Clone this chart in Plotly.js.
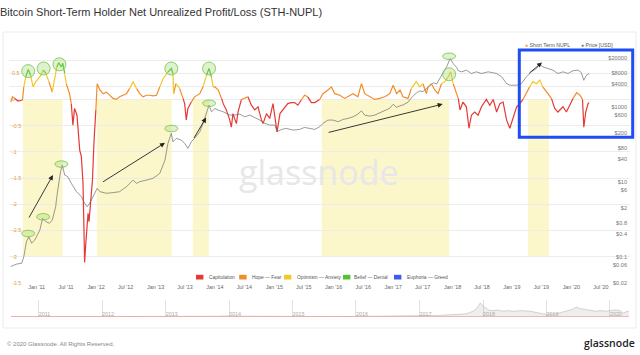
<!DOCTYPE html>
<html><head><meta charset="utf-8">
<script src="https://cdn.plot.ly/plotly-3.0.1.min.js"></script>
<style>html,body{margin:0;padding:0;background:#fff;}#chart{width:640px;height:355px;}</style>
</head><body><div id="chart"></div>
<script>
// ---------------- DATA ----------------
const nuplDates = [
'2010-07-26','2010-08-05','2010-08-19','2010-09-09','2010-10-06','2010-10-14','2010-10-26','2010-11-10','2010-11-25','2010-12-10','2010-12-27',
'2011-01-21','2011-02-10','2011-02-27','2011-03-17','2011-04-07','2011-04-21','2011-05-05','2011-05-17','2011-06-02','2011-06-11','2011-06-22','2011-07-02','2011-07-22','2011-08-02','2011-08-12','2011-08-22','2011-09-06','2011-09-23','2011-10-03','2011-10-13','2011-10-19','2011-10-23','2011-10-29','2011-11-07','2011-11-13','2011-11-19','2011-11-28','2011-12-10','2011-12-20','2011-12-31',
'2012-01-08','2012-01-25','2012-02-14','2012-03-05','2012-03-25','2012-04-15','2012-05-05','2012-05-25','2012-06-15','2012-07-06','2012-07-26','2012-08-16','2012-09-06','2012-09-26','2012-10-16','2012-11-07','2012-11-27','2012-12-17',
'2013-01-07','2013-01-27','2013-02-17','2013-03-18','2013-04-08','2013-04-18','2013-04-22','2013-05-06','2013-05-29','2013-06-19','2013-06-29','2013-07-09','2013-07-19','2013-08-09','2013-08-29','2013-09-30','2013-10-20','2013-11-10','2013-11-26','2013-12-11','2013-12-21',
'2014-01-01','2014-01-21','2014-02-11','2014-02-21','2014-03-12','2014-04-02','2014-04-12','2014-04-22','2014-05-13','2014-05-23','2014-06-13','2014-07-03','2014-07-23','2014-08-13','2014-09-03','2014-09-23','2014-10-14','2014-10-24','2014-11-14','2014-12-04','2014-12-24',
'2015-01-18','2015-02-05','2015-03-05','2015-03-25','2015-04-16','2015-05-06','2015-05-26','2015-06-16','2015-07-06','2015-07-26','2015-08-17','2015-09-07','2015-10-07','2015-10-27','2015-11-27','2015-12-18',
'2016-01-08','2016-02-08','2016-03-09','2016-03-29','2016-04-29','2016-05-29','2016-06-20','2016-07-10','2016-08-10','2016-09-10','2016-10-11','2016-11-11','2016-12-11',
'2017-01-01','2017-01-22','2017-02-12','2017-03-02','2017-04-02','2017-04-23','2017-05-23','2017-06-13','2017-07-03','2017-07-24','2017-08-03','2017-08-24','2017-09-14','2017-10-04','2017-10-25','2017-11-15','2017-12-05','2017-12-20',
'2018-01-05','2018-01-26','2018-02-05','2018-02-16','2018-03-06','2018-03-27','2018-04-12','2018-04-27','2018-05-17','2018-06-07','2018-06-28','2018-07-12','2018-07-28','2018-08-18','2018-09-08','2018-09-29','2018-10-19','2018-11-08','2018-11-29','2018-12-19',
'2019-01-09','2019-01-30','2019-02-19','2019-03-10','2019-03-31','2019-04-20','2019-05-10','2019-06-01','2019-06-21','2019-07-10','2019-08-01','2019-09-01','2019-09-21','2019-10-11','2019-11-11','2019-12-02','2019-12-22',
'2020-01-12','2020-02-03','2020-02-23','2020-03-10','2020-03-18','2020-03-30','2020-04-13','2020-04-20'];
const nuplValues = [
-0.05,0.05,0.02,-0.03,-0.01,0.24,0.43,0.57,0.46,0.24,0.34,
0.43,0.56,0.5,0.34,0.14,0.37,0.62,0.70,0.62,0.69,0.50,0.30,0.11,-0.08,-0.49,-0.17,-0.30,-0.97,-1.09,-1.60,-2.68,-3.11,-2.8,-2.3,-2.17,-2.33,-2.05,-1.54,-0.78,-0.2,
0.30,0.18,0.11,0.14,0.08,0.02,0,0.05,0.08,0.11,0.21,0.34,0.21,0.11,0.05,0.08,0.08,0.07,
0.08,0.24,0.40,0.52,0.59,0.50,0.11,0.30,0.21,0.02,-0.08,-0.39,-0.17,-0.05,0.05,0.11,0.24,0.46,0.59,0.42,0.24,
0.24,0.18,0.02,-0.08,-0.2,-0.39,-0.53,-0.27,-0.46,-0.24,0.0,0.02,0.05,-0.11,-0.2,-0.14,-0.39,-0.46,-0.27,-0.36,-0.08,
-0.62,-0.27,-0.15,-0.08,-0.06,-0.06,-0.11,-0.01,0.08,0.05,-0.06,-0.06,0.0,0.11,0.18,0.24,
0.11,0.08,0.02,0.05,0.11,0.05,0.30,0.11,0.05,0.0,0.02,0.05,0.11,
0.27,0.11,0.18,0.05,0.02,0.21,0.34,0.24,0.30,0.11,0.24,0.30,0.18,0.11,0.30,0.34,0.43,0.53,
0.30,0.08,0.02,-0.2,-0.05,-0.14,-0.55,-0.30,-0.24,-0.30,-0.14,-0.08,0.0,-0.11,0.0,-0.24,-0.08,-0.05,-0.39,-0.55,
-0.33,-0.14,-0.08,0.0,0.11,0.24,0.34,0.30,0.37,0.24,0.15,0.02,-0.17,-0.24,-0.14,-0.24,-0.11,
0.02,0.13,0.08,0.0,-0.53,-0.24,-0.08,-0.06];

const priceDates = [
'2010-07-26','2010-09-01','2010-10-01','2010-10-14','2010-10-30','2010-11-14','2010-12-01','2010-12-21',
'2011-01-21','2011-02-07','2011-02-27','2011-03-21','2011-04-07','2011-04-28','2011-05-05','2011-05-16','2011-05-28','2011-06-08','2011-06-22','2011-07-12','2011-08-02','2011-09-03','2011-10-03','2011-10-23','2011-11-07','2011-11-24','2011-12-14',
'2012-01-08','2012-01-25','2012-03-05','2012-04-15','2012-05-25','2012-07-06','2012-08-16','2012-09-06','2012-09-26','2012-11-07','2012-12-17',
'2013-01-27','2013-02-28','2013-03-18','2013-04-08','2013-04-18','2013-05-09','2013-06-09','2013-06-29','2013-07-19','2013-08-09','2013-08-29','2013-09-30','2013-10-20','2013-11-10','2013-11-26','2013-12-11',
'2014-01-01','2014-01-21','2014-02-21','2014-04-02','2014-05-02','2014-06-02','2014-07-03','2014-08-03','2014-09-03','2014-10-04','2014-11-04','2014-12-04',
'2015-01-05','2015-01-18','2015-02-15','2015-03-16','2015-04-26','2015-06-06','2015-07-06','2015-08-07','2015-09-07','2015-10-07','2015-10-27','2015-11-27','2015-12-28',
'2016-01-28','2016-02-28','2016-03-29','2016-04-29','2016-05-29','2016-06-20','2016-07-10','2016-08-10','2016-09-10','2016-10-11','2016-11-11','2016-12-11',
'2017-01-01','2017-01-22','2017-02-12','2017-03-02','2017-04-02','2017-04-23','2017-05-23','2017-06-13','2017-07-03','2017-07-24','2017-08-14','2017-09-04','2017-09-25','2017-10-16','2017-11-05','2017-11-26','2017-12-17',
'2018-01-05','2018-01-26','2018-02-05','2018-02-26','2018-03-27','2018-04-27','2018-05-27','2018-06-28','2018-08-08','2018-09-29','2018-10-30','2018-11-29','2018-12-19',
'2019-01-30','2019-03-01','2019-03-31','2019-05-01','2019-06-01','2019-06-21','2019-07-10','2019-08-10','2019-09-10','2019-10-11','2019-11-11','2019-12-12',
'2020-01-12','2020-02-12','2020-03-03','2020-03-18','2020-04-03','2020-04-20'];
const priceValues = [
0.055,0.064,0.067,0.10,0.25,0.34,0.23,0.28,
0.52,1.06,0.86,0.78,0.95,2.15,4.0,9.0,18.4,27.7,15.0,13.5,9.0,5.4,4.0,2.65,2.15,2.7,4.0,
6.6,5.4,4.9,5.1,5.4,7.3,11.0,9.0,10.0,11.0,12.3,
16.6,37.6,104,193,115,142,128,104,77,115,142,213,356,724,1092,724,
891,804,724,592,592,629,533,592,514,436,356,321,
321,213,246,262,236,246,278,262,246,289,356,436,436,
393,454,483,533,629,769,592,556,592,680,800,900,
1150,950,1050,1100,1300,1700,2300,2600,2500,3000,3700,4300,4000,5800,7600,11500,19000,
14000,11000,9000,8400,9300,7600,8400,7600,8400,7600,6200,4100,3700,
3700,4100,6200,8400,10300,13400,11400,10300,9300,7600,8400,7600,
9000,9300,8000,5000,6850,7600];

const zoneNames  = ['Capitulation','Hope — Fear','Optimism — Anxiety','Belief — Denial','Euphoria — Greed'];
const zoneColors = ['#e53935','#f28c28','#f2c92b','#52c234','#3d5bf0'];
const zoneLimits = [0, 0.25, 0.5, 0.75];

const shadeStarts = ['2010-10-08','2012-01-06','2013-08-18','2015-10-20','2019-04-10'];
const shadeEnds   = ['2011-06-10','2013-04-10','2013-11-25','2017-12-11','2019-08-16'];

const nuplPeakDates  = ['2010-11-10','2011-02-13','2011-05-21','2013-04-08','2013-11-26','2017-12-11'];
const nuplPeakValues = [0.54,0.59,0.67,0.59,0.59,0.48];
const pricePeakDates  = ['2010-11-10','2011-02-10','2011-06-02','2013-04-08','2013-11-26','2017-12-11'];
const pricePeakValues = [0.34,0.95,24,213,1000,17900];

const arrowFromDates  = ['2010-11-10','2012-02-04','2013-08-20','2015-11-22','2019-04-10'];
const arrowFromPrices = [1.01,9.35,133,200,7280];
const arrowToDates    = ['2011-04-11','2013-02-28','2013-11-08','2017-11-01','2019-07-05'];
const arrowToPrices   = [15,108,507,1160,14900];

const nuplTickVals = [1,0.75,0.5,0.25,0,-0.5,-1,-1.5,-2,-2.5,-3,-3.5];
const nuplTickText = ['','','0.5','','0','-0.5','-1','-1.5','-2','-2.5','-3','-3.5'];
const priceTickVals = [20000,8000,4000,1000,600,200,80,40,10,6,2,0.8,0.4,0.1,0.06,0.02];
const priceTickText = ['$20000','$8000','$4000','$1000','$600','$200','$80','$40','$10','$6','$2','$0.8','$0.4','$0.1','$0.06','$0.02'];

// ---------------- GEOMETRY (pixels -> paper) ----------------
const W = 640, H = 355, ML = 9, MR = 10, MT = 47, MB = 38;
const PW = W - ML - MR, PH = H - MT - MB;
const px = v => (v - ML) / PW;
const py = v => (H - MB - v) / PH;
const MAIN_BOTTOM = 283;

// ---------------- TRACES ----------------
function zoneOf(v){ let b = 0; for (let k = 0; k < zoneLimits.length; k++) if (v >= zoneLimits[k]) b = k + 1; return b; }
const traces = [];
traces.push({x: priceDates, y: priceValues, xaxis:'x', yaxis:'y2', mode:'lines', name:'Price [USD]',
  line:{color:'rgba(105,105,105,0.75)', width:0.9}, hoverinfo:'skip'});
for (let b = 0; b < zoneColors.length; b++) {
  const xs = [], ys = []; let last = -2;
  for (let i = 0; i < nuplValues.length - 1; i++) {
    const mid = (nuplValues[i] + nuplValues[i+1]) / 2;
    if (zoneOf(mid) !== b) continue;
    if (last !== i) { if (xs.length) { xs.push(null); ys.push(null); } xs.push(nuplDates[i]); ys.push(nuplValues[i]); }
    xs.push(nuplDates[i+1]); ys.push(nuplValues[i+1]); last = i + 1;
  }
  traces.push({x: xs, y: ys, xaxis:'x', yaxis:'y', mode:'lines', name: zoneNames[b], connectgaps:false,
    line:{color: zoneColors[b], width:1.2}, hoverinfo:'skip'});
}
traces.push({x: priceDates, y: priceValues, xaxis:'x2', yaxis:'y3', mode:'lines', fill:'tozeroy',
  fillcolor:'rgba(120,120,120,0.13)', line:{color:'#b8b8b8', width:0.6}, hoverinfo:'skip'});
traces.push({x: nuplDates, y: nuplValues, xaxis:'x2', yaxis:'y3', mode:'lines',
  line:{color:'#f3a58f', width:1.2}, hoverinfo:'skip'});

// ---------------- SHAPES ----------------
const shapes = [];
shapes.push({type:'rect', xref:'paper', yref:'paper', x0:px(3), x1:px(636), y0:py(328), y1:py(32),
  line:{color:'#ebebeb', width:1}, fillcolor:'rgba(0,0,0,0)', layer:'below'});
for (let i = 0; i < shadeStarts.length; i++) {
  shapes.push({type:'rect', xref:'x', yref:'y', x0:shadeStarts[i], x1:shadeEnds[i], y0:-3, y1:0,
    fillcolor:'#fcf6cb', line:{width:0}, layer:'below'});
}
const circ = (xr, yr, xa, ya) => ({type:'circle', xref:xr, yref:yr, xsizemode:'pixel', ysizemode:'pixel',
  xanchor:xa, yanchor:ya, x0:-6.5, x1:6.5, y0:-6.5, y1:6.5,
  fillcolor:'rgba(150,215,100,0.32)', line:{color:'rgba(120,195,75,0.8)', width:1}, layer:'above'});
for (let i = 0; i < nuplPeakDates.length; i++) shapes.push(circ('x','y', nuplPeakDates[i], nuplPeakValues[i]));
for (let i = 0; i < pricePeakDates.length; i++) shapes.push(circ('x','y2', pricePeakDates[i], pricePeakValues[i]));
shapes.push({type:'rect', xref:'paper', yref:'paper', x0:px(519.3), x1:px(632.7), y0:py(137.3), y1:py(50),
  line:{color:'#1f4cf3', width:3}, fillcolor:'rgba(0,0,0,0)', layer:'above'});
// bottom legend swatches and labels
const swatchX = [196, 239.2, 284, 343, 394];
const legendTextX = [206.5, 249.5, 294.5, 351.5, 404.5];
for (let i = 0; i < zoneColors.length; i++) {
  shapes.push({type:'rect', xref:'paper', yref:'paper', x0:px(swatchX[i]), x1:px(swatchX[i]+7.4),
    y0:py(279.5), y1:py(274.8), fillcolor:zoneColors[i], line:{width:0}, layer:'above'});
}

// ---------------- ANNOTATIONS ----------------
const ann = [];
for (let i = 0; i < arrowFromDates.length; i++) {
  ann.push({xref:'x', yref:'y2', axref:'x', ayref:'y2', x:arrowToDates[i], y:Math.log10(arrowToPrices[i]),
    ax:arrowFromDates[i], ay:Math.log10(arrowFromPrices[i]), text:'', showarrow:true,
    arrowhead:2, arrowsize:1.1, arrowwidth:0.9, arrowcolor:'#222'});
}
const small = {family:'Liberation Sans, Arial, sans-serif', size:4.9, color:'#555'};
for (let i = 0; i < zoneNames.length; i++) {
  ann.push({xref:'paper', yref:'paper', x:px(legendTextX[i]), y:py(277.2), xanchor:'left', yanchor:'middle',
    text: zoneNames[i], showarrow:false, font: small});
}
const topLeg = {family:'Liberation Sans, Arial, sans-serif', size:5.2, color:'#555'};
ann.push({xref:'paper', yref:'paper', x:px(522.5), y:py(45), xanchor:'left', yanchor:'middle', showarrow:false,
  text:'<span style="color:#f39a35">●</span> Short Term NUPL', font:topLeg});
ann.push({xref:'paper', yref:'paper', x:px(578.5), y:py(45), xanchor:'left', yanchor:'middle', showarrow:false,
  text:'<span style="color:#777">●</span> Price [USD]', font:topLeg});
ann.push({xref:'paper', yref:'paper', x:px(319), y:py(172), xanchor:'center', yanchor:'middle', showarrow:false,
  text:'glassnode', font:{family:'Open Sans, sans-serif', size:34, color:'#e7e7e7'}});
ann.push({xref:'paper', yref:'paper', x:px(5), y:py(344), xanchor:'left', yanchor:'middle', showarrow:false,
  text:'© 2020 Glassnode. All Rights Reserved.', font:{family:'Liberation Sans, Arial, sans-serif', size:6, color:'#888'}});
ann.push({xref:'paper', yref:'paper', x:px(637), y:py(342.5), xanchor:'right', yanchor:'middle', showarrow:false,
  text:'glassnode', font:{family:'Open Sans, sans-serif', size:10.5, color:'#222', weight:600}});

// ---------------- LAYOUT ----------------
const tickFont = {family:'Liberation Sans, Arial, sans-serif', size:5.4, color:'#666'};
const layout = {
  width: W, height: H, margin:{l:ML, r:MR, t:MT, b:MB, pad:0},
  paper_bgcolor:'#ffffff', plot_bgcolor:'rgba(0,0,0,0)', showlegend:false,
  title:{text:'Bitcoin Short-Term Holder Net Unrealized Profit/Loss (STH-NUPL)', xref:'container', yref:'container',
    x:0, xanchor:'left', y:1 - 12/H, yanchor:'middle', pad:{l:0,t:0,b:0,r:0},
    font:{family:'Liberation Sans, Arial, sans-serif', size:11, color:'#333'}},
  xaxis:{domain:[0,1], anchor:'y', type:'date', range:['2010-07-15','2020-12-27'], tick0:'2011-01-01', dtick:'M6',
    tickformat:"%b '%y", showgrid:false, zeroline:false, showline:false, ticks:'', tickfont:tickFont},
  yaxis:{domain:[py(MAIN_BOTTOM),1], range:[-3.5, 1], tickmode:'array', tickvals:nuplTickVals, ticktext:nuplTickText,
    ticklabelposition:'inside', ticklabelshift:-2.5, ticklabeloverflow:'allow',
    tickfont:{family:'Liberation Sans, Arial, sans-serif', size:5.4, color:'#e2a03c'},
    gridcolor:'#ececec', gridwidth:1, zeroline:false, showline:false, ticks:''},
  yaxis2:{overlaying:'y', side:'right', type:'log', range:[Math.log10(0.02), 4.5856], tickmode:'array',
    tickvals:priceTickVals, ticktext:priceTickText, ticklabelposition:'inside', ticklabelshift:-2.5, ticklabeloverflow:'allow',
    tickfont:{family:'Liberation Sans, Arial, sans-serif', size:5.6, color:'#777'},
    showgrid:false, zeroline:false, showline:false, ticks:''},
  xaxis2:{domain:[px(11), px(629)], anchor:'y3', type:'date', range:[nuplDates[0], nuplDates[nuplDates.length-1]],
    tick0:'2011-01-01', dtick:'M12', tickformat:'%Y', ticklabelposition:'inside right', ticks:'', ticklabelstandoff:-6,
    showgrid:true, gridcolor:'#e2e2e2', zeroline:false, showline:false,
    tickfont:{family:'Liberation Sans, Arial, sans-serif', size:5.4, color:'#aaa'}},
  yaxis3:{domain:[0, py(300)], anchor:'x2', range:[-300, 23000], visible:false},
  shapes: shapes, annotations: ann
};
Plotly.newPlot('chart', traces, layout, {staticPlot:true, displayModeBar:false});
</script></body></html>
